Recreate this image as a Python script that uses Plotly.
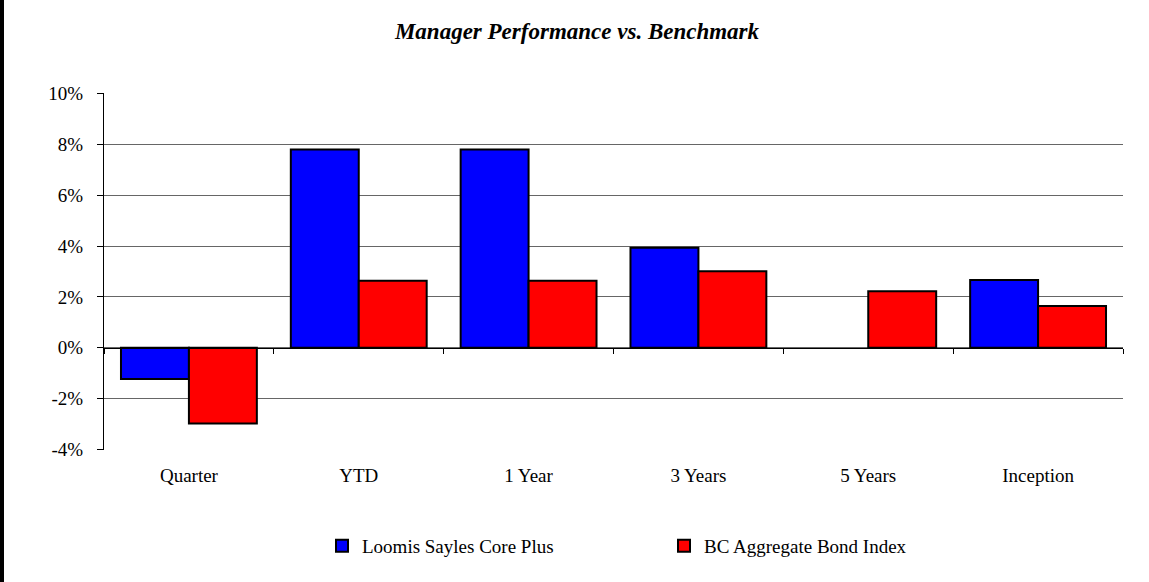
import plotly.graph_objects as go

# Period labels and returns (%) for the manager and its benchmark
periods = ["Quarter", "YTD", "1 Year", "3 Years", "5 Years", "Inception"]
manager_name = "Loomis Sayles Core Plus"
benchmark_name = "BC Aggregate Bond Index"
manager_returns = [-1.23, 7.80, 7.80, 3.94, None, 2.67]
benchmark_returns = [-2.99, 2.64, 2.64, 3.01, 2.22, 1.64]
y_ticks = [-4, -2, 0, 2, 4, 6, 8, 10]
y_tick_labels = [f"{v}%" for v in y_ticks]

W, H = 1149, 582
ML, MR, MT, MB = 104, 26, 93, 132
plot_w = W - ML - MR
plot_h = H - MT - MB
# a hair of headroom so the outer gridlines at -4% and 10% are drawn
y_min, y_max = -4.03, 10.03

FONT = "Liberation Serif"
outline = dict(color="black", width=2)

fig = go.Figure()
fig.add_trace(go.Bar(
    x=periods, y=manager_returns, name=manager_name,
    marker=dict(color="#0000FF", line=outline), xaxis="x", yaxis="y",
))
fig.add_trace(go.Bar(
    x=periods, y=benchmark_returns, name=benchmark_name,
    marker=dict(color="#FF0000", line=outline), xaxis="x", yaxis="y",
))
# transparent helper so the label axis along the bottom knows the categories
fig.add_trace(go.Scatter(
    x=periods, y=benchmark_returns, mode="markers", marker=dict(opacity=0),
    showlegend=False, hoverinfo="skip", xaxis="x2", yaxis="y",
))

zero_pos = (0 - y_min) / (y_max - y_min)

fig.update_layout(
    width=W, height=H,
    margin=dict(l=ML, r=MR, t=MT, b=MB, pad=0),
    paper_bgcolor="white", plot_bgcolor="white",
    font=dict(family=FONT, size=19, color="black"),
    barmode="group", bargap=0.2, bargroupgap=0,
    title=dict(
        text="<b><i>Manager Performance vs. Benchmark</i></b>",
        font=dict(family=FONT, size=23, color="black"),
        x=577 / W, xanchor="center", xref="container",
        y=1 - 31 / H, yanchor="middle", yref="container",
    ),
    # category axis riding on the zero line: black line, boundary ticks
    xaxis=dict(
        type="category", categoryorder="array", categoryarray=periods,
        range=[-0.5, len(periods) - 0.5],
        anchor="free", position=zero_pos,
        showline=True, linecolor="black", linewidth=1,
        ticks="outside", tickson="boundaries", ticklen=5, tickcolor="black",
        showticklabels=False, showgrid=False, zeroline=False,
    ),
    # label axis along the bottom of the plot
    xaxis2=dict(
        type="category", categoryorder="array", categoryarray=periods,
        range=[-0.5, len(periods) - 0.5],
        overlaying="x", anchor="y", side="bottom",
        showline=False, ticks="", showgrid=False, zeroline=False,
        ticklabelstandoff=12,
        tickfont=dict(family=FONT, size=19, color="black"),
    ),
    yaxis=dict(
        range=[y_min, y_max], tickvals=y_ticks, ticktext=y_tick_labels,
        showline=True, linecolor="black", linewidth=1,
        ticks="outside", ticklen=6, tickcolor="black",
        showgrid=True, gridcolor="#666666", gridwidth=1,
        zeroline=False, ticklabelstandoff=10,
        tickfont=dict(family=FONT, size=19, color="black"),
    ),
    legend=dict(
        orientation="h", xref="container", yref="container",
        x=322 / W, xanchor="left", y=1 - 546 / H, yanchor="middle",
        entrywidth=297, entrywidthmode="pixels",
        font=dict(family=FONT, size=19, color="black"),
        bgcolor="rgba(0,0,0,0)", traceorder="normal",
    ),
    shapes=[
        # frame edge on the left side of the chart
        dict(type="line", xref="paper", yref="paper",
             x0=-(ML - 2) / plot_w, x1=-(ML - 2) / plot_w,
             y0=-MB / plot_h, y1=(H - MB) / plot_h,
             line=dict(color="black", width=4)),
    ],
)

fig.write_html("out.html")
